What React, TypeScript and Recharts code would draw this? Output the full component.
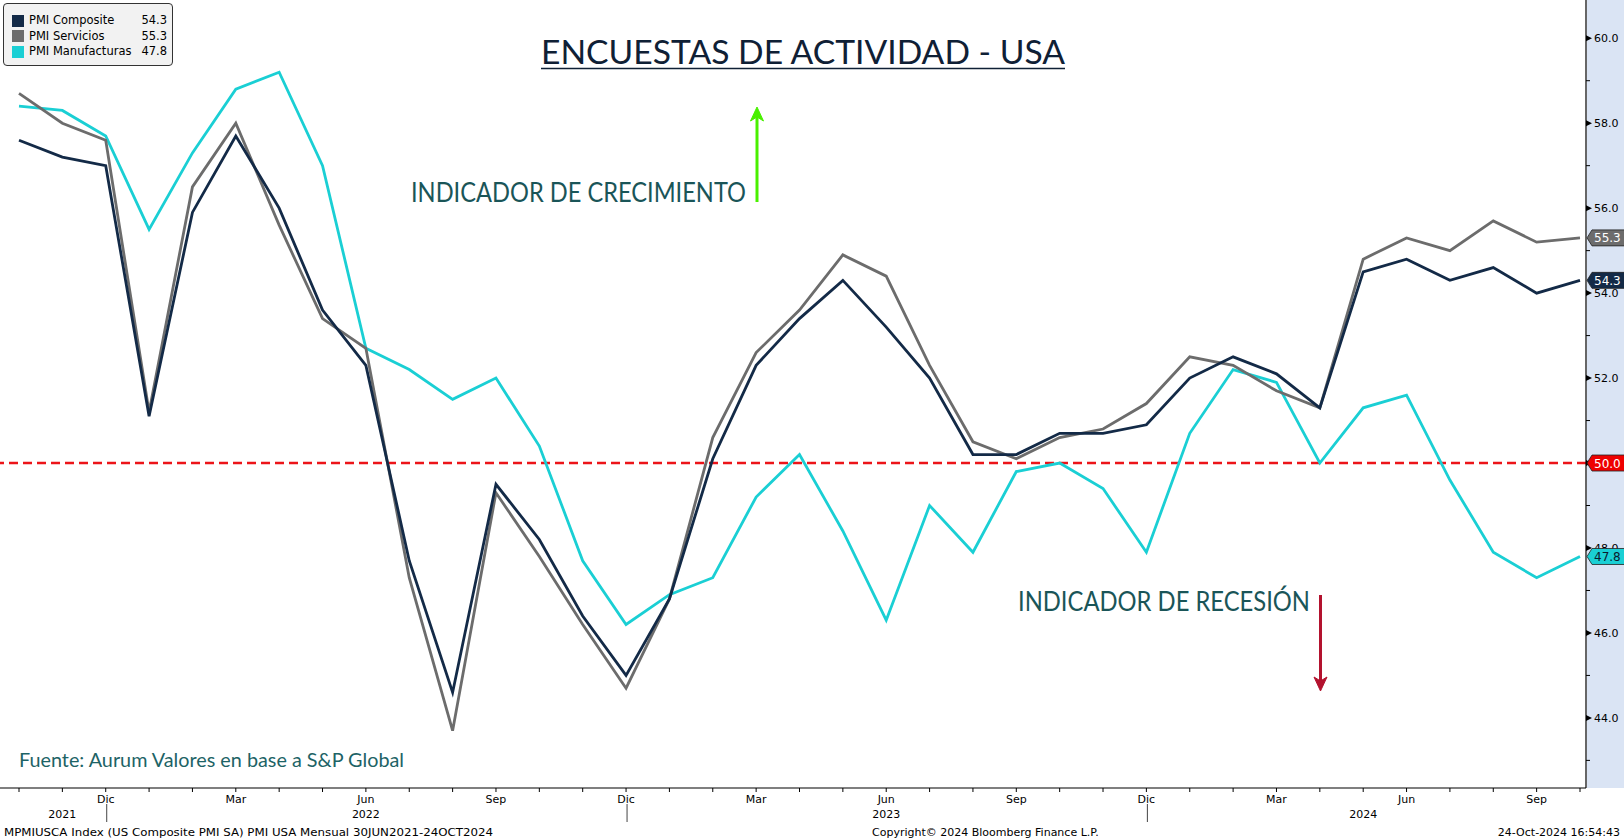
import React from 'react';
import { LineChart, Line, XAxis, YAxis, ReferenceLine, ReferenceDot } from 'recharts';

const categories = [
  'Oct 2021', 'Nov 2021', 'Dic 2021',
  'Ene 2022', 'Feb 2022', 'Mar 2022', 'Abr 2022', 'May 2022', 'Jun 2022', 'Jul 2022', 'Ago 2022', 'Sep 2022', 'Oct 2022', 'Nov 2022', 'Dic 2022',
  'Ene 2023', 'Feb 2023', 'Mar 2023', 'Abr 2023', 'May 2023', 'Jun 2023', 'Jul 2023', 'Ago 2023', 'Sep 2023', 'Oct 2023', 'Nov 2023', 'Dic 2023',
  'Ene 2024', 'Feb 2024', 'Mar 2024', 'Abr 2024', 'May 2024', 'Jun 2024', 'Jul 2024', 'Ago 2024', 'Sep 2024', 'Oct 2024',
];

const composite = [
  57.6, 57.2, 57.0,
  51.1, 55.9, 57.7, 56.0, 53.6, 52.3, 47.7, 44.6, 49.5, 48.2, 46.4, 45.0,
  46.8, 50.1, 52.3, 53.4, 54.3, 53.2, 52.0, 50.2, 50.2, 50.7, 50.7, 50.9,
  52.0, 52.5, 52.1, 51.3, 54.5, 54.8, 54.3, 54.6, 54.0, 54.3,
];

const services = [
  58.7, 58.0, 57.6,
  51.2, 56.5, 58.0, 55.6, 53.4, 52.7, 47.3, 43.7, 49.3, 47.8, 46.2, 44.7,
  46.8, 50.6, 52.6, 53.6, 54.9, 54.4, 52.3, 50.5, 50.1, 50.6, 50.8, 51.4,
  52.5, 52.3, 51.7, 51.3, 54.8, 55.3, 55.0, 55.7, 55.2, 55.3,
];

const manufacturing = [
  58.4, 58.3, 57.7,
  55.5, 57.3, 58.8, 59.2, 57.0, 52.7, 52.2, 51.5, 52.0, 50.4, 47.7, 46.2,
  46.9, 47.3, 49.2, 50.2, 48.4, 46.3, 49.0, 47.9, 49.8, 50.0, 49.4, 47.9,
  50.7, 52.2, 51.9, 50.0, 51.3, 51.6, 49.6, 47.9, 47.3, 47.8,
];

const seriesNames = ['PMI Composite', 'PMI Servicios', 'PMI Manufacturas'];
const quarterTickLabels = ['Dic', 'Mar', 'Jun', 'Sep'];
const yearLabels = [
  { at: 'Nov 2021', text: '2021' },
  { at: 'Jun 2022', text: '2022' },
  { at: 'Jun 2023', text: '2023' },
  { at: 'May 2024', text: '2024' },
];
const yearBreaks = ['Dic 2021', 'Dic 2022', 'Dic 2023'];
const yTicks = [43, 44, 45, 46, 47, 48, 49, 50, 51, 52, 53, 54, 55, 56, 57, 58, 59, 60];
const threshold = 50;

const COLORS = {
  comp: '#132a47',
  serv: '#6c6c6c',
  manuf: '#1acfd4',
  red: '#ec1419',
};

const AXIS_FONT = "'DejaVu Sans', Verdana, sans-serif";
const TITLE_FONT = "Lato, 'Open Sans', sans-serif";

const data = categories.map((c, i) => ({
  month: c,
  comp: composite[i],
  serv: services[i],
  manuf: manufacturing[i],
}));

const lastIdx = categories.length - 1;
const Y_DOMAIN: [number, number] = [42.35, 60.9];
const CHART_MARGIN = { top: 0, right: 0, bottom: 0, left: 0 };

const XTick = (props: any) => {
  const { x, y, payload } = props;
  const cat: string = payload.value;
  const mon = cat.split(' ')[0];
  const yl = yearLabels.find((d) => d.at === cat);
  return (
    <g>
      <line x1={x} x2={x} y1={y} y2={y + 4} stroke="#000" strokeWidth={1} />
      {yearBreaks.includes(cat) && (
        <line x1={x + 1} x2={x + 1} y1={y + 16} y2={y + 34} stroke="#444" strokeWidth={1} />
      )}
      {quarterTickLabels.includes(mon) && (
        <text x={x} y={y + 15} textAnchor="middle" fontFamily={AXIS_FONT} fontSize={11} fill="#000">
          {mon}
        </text>
      )}
      {yl && (
        <text x={x} y={y + 30} textAnchor="middle" fontFamily={AXIS_FONT} fontSize={11} fill="#000">
          {yl.text}
        </text>
      )}
    </g>
  );
};

const YTick = (props: any) => {
  const { x, y, payload } = props;
  const v: number = payload.value;
  if (v % 2 !== 0) {
    return <line x1={x} x2={x + 4} y1={y} y2={y} stroke="#000" strokeWidth={1} />;
  }
  return (
    <g>
      <path d={`M${x} ${y - 3} L${x + 6} ${y} L${x} ${y + 3} Z`} fill="#000" />
      <text x={x + 8} y={y + 4} fontFamily={AXIS_FONT} fontSize={11} fill="#000">
        {v.toFixed(1)}
      </text>
    </g>
  );
};

const makeTag = (text: string, bg: string, fg: string) => (props: any) => {
  const { cx, cy } = props;
  const x = cx + 7;
  const y = cy;
  return (
    <g>
      <path
        d={`M${x} ${y} L${x + 5} ${y - 8} L${x + 42} ${y - 8} L${x + 42} ${y + 8} L${x + 5} ${y + 8} Z`}
        fill={bg}
        stroke="#222"
        strokeWidth={0.8}
      />
      <text x={x + 7} y={y + 4.5} fontFamily={AXIS_FONT} fontSize={12} fill={fg}>
        {text}
      </text>
    </g>
  );
};

const legendRows = [
  { name: seriesNames[0], color: COLORS.comp, value: composite[lastIdx] },
  { name: seriesNames[1], color: COLORS.serv, value: services[lastIdx] },
  { name: seriesNames[2], color: COLORS.manuf, value: manufacturing[lastIdx] },
];

export default function App() {
  return (
    <div style={{ position: 'absolute', left: 0, top: 0, width: 1624, height: 840, overflow: 'hidden', background: '#fff' }}>
      <div style={{ position: 'absolute', left: 1587, top: 0, width: 37, height: 788, background: '#dae4f4' }} />
      <div style={{ position: 'absolute', left: 0, top: 0 }}>
        <LineChart width={1624} height={840} data={data} margin={CHART_MARGIN}>
          <XAxis
            dataKey="month"
            type="category"
            height={52}
            padding={{ left: 19, right: 6 }}
            interval={0}
            tickSize={0}
            tickMargin={0}
            tick={XTick}
            tickLine={false}
            axisLine={{ stroke: '#000', strokeWidth: 1.2 }}
          />
          <YAxis
            orientation="right"
            width={38}
            domain={Y_DOMAIN}
            ticks={yTicks}
            interval={0}
            allowDataOverflow
            tickSize={0}
            tickMargin={0}
            tick={YTick}
            tickLine={false}
            axisLine={{ stroke: '#000', strokeWidth: 1.2 }}
          />
          <ReferenceLine y={threshold} stroke={COLORS.red} strokeDasharray="9 5" strokeWidth={2.5} />
          <Line dataKey="manuf" stroke={COLORS.manuf} strokeWidth={2.8} dot={false} activeDot={false} isAnimationActive={false} />
          <Line dataKey="serv" stroke={COLORS.serv} strokeWidth={2.8} dot={false} activeDot={false} isAnimationActive={false} />
          <Line dataKey="comp" stroke={COLORS.comp} strokeWidth={2.8} dot={false} activeDot={false} isAnimationActive={false} />
        </LineChart>
      </div>

      {/* overlay chart with identical layout: value tags drawn above the axis */}
      <div style={{ position: 'absolute', left: 0, top: 0, pointerEvents: 'none' }}>
        <LineChart width={1624} height={840} data={data} margin={CHART_MARGIN}>
          <XAxis
            dataKey="month"
            type="category"
            height={52}
            padding={{ left: 19, right: 6 }}
            tick={false}
            tickLine={false}
            axisLine={false}
          />
          <YAxis
            orientation="right"
            width={38}
            domain={Y_DOMAIN}
            ticks={yTicks}
            allowDataOverflow
            tick={false}
            tickLine={false}
            axisLine={false}
          />
          <ReferenceDot x={categories[lastIdx]} y={threshold} shape={makeTag(threshold.toFixed(1), '#ee0000', '#fff')} />
          <ReferenceDot x={categories[lastIdx]} y={services[lastIdx]} shape={makeTag(services[lastIdx].toFixed(1), COLORS.serv, '#fff')} />
          <ReferenceDot x={categories[lastIdx]} y={composite[lastIdx]} shape={makeTag(composite[lastIdx].toFixed(1), COLORS.comp, '#fff')} />
          <ReferenceDot x={categories[lastIdx]} y={manufacturing[lastIdx]} shape={makeTag(manufacturing[lastIdx].toFixed(1), COLORS.manuf, '#0b1a2e')} />
        </LineChart>
      </div>

      <svg width={1624} height={840} style={{ position: 'absolute', left: 0, top: 0, pointerEvents: 'none' }}>
        <text x={803} y={64} textAnchor="middle" fontFamily={TITLE_FONT} fontSize={32} fill="#0f2035" textLength={524} lengthAdjust="spacingAndGlyphs">
          ENCUESTAS DE ACTIVIDAD - USA
        </text>
        <line x1={541} x2={1065} y1={68.5} y2={68.5} stroke="#0f2035" strokeWidth={1.5} />

        <text x={411} y={202} fontFamily={TITLE_FONT} fontSize={26} fill="#1a5558" textLength={335} lengthAdjust="spacingAndGlyphs">
          INDICADOR DE CRECIMIENTO
        </text>
        <line x1={757} x2={757} y1={202} y2={116} stroke="#49f000" strokeWidth={3} />
        <path d="M757 107 L763.5 121 L757 117 L750.5 121 Z" fill="#49f000" stroke="#49f000" strokeWidth={1} />

        <text x={1018} y={611} fontFamily={TITLE_FONT} fontSize={26} fill="#1a5558" textLength={292} lengthAdjust="spacingAndGlyphs">
          INDICADOR DE RECESIÓN
        </text>
        <line x1={1320.5} x2={1320.5} y1={595} y2={682} stroke="#b3122e" strokeWidth={3} />
        <path d="M1320.5 691 L1314 677 L1320.5 681 L1327 677 Z" fill="#b3122e" stroke="#b3122e" strokeWidth={1} />

        <text x={19} y={767} fontFamily={TITLE_FONT} fontSize={19} fill="#1d6366" textLength={385} lengthAdjust="spacingAndGlyphs">
          Fuente: Aurum Valores en base a S&amp;P Global
        </text>

        <text x={4} y={836} fontFamily={AXIS_FONT} fontSize={11} fill="#000" textLength={489} lengthAdjust="spacingAndGlyphs">
          MPMIUSCA Index (US Composite PMI SA) PMI USA  Mensual 30JUN2021-24OCT2024
        </text>
        <text x={872} y={836} fontFamily={AXIS_FONT} fontSize={11} fill="#000">
          Copyright© 2024 Bloomberg Finance L.P.
        </text>
        <text x={1620} y={836} textAnchor="end" fontFamily={AXIS_FONT} fontSize={11} fill="#000">
          24-Oct-2024 16:54:43
        </text>
      </svg>

      <div
        style={{
          position: 'absolute',
          left: 3,
          top: 3,
          width: 170,
          height: 63,
          boxSizing: 'border-box',
          border: '1px solid #333',
          borderRadius: 4,
          background: '#f2f2f2',
          fontFamily: AXIS_FONT,
          fontSize: 11.5,
          color: '#000',
        }}
      >
        {legendRows.map((r, i) => (
          <div key={r.name} style={{ position: 'absolute', left: 0, top: 9 + i * 15.5, width: 168, height: 15, lineHeight: '15px' }}>
            <div style={{ position: 'absolute', left: 8, top: 1.5, width: 12, height: 12, background: r.color }} />
            <div style={{ position: 'absolute', left: 25, top: 0, whiteSpace: 'nowrap' }}>{r.name}</div>
            <div style={{ position: 'absolute', right: 5, top: 0 }}>{r.value.toFixed(1)}</div>
          </div>
        ))}
      </div>
    </div>
  );
}
